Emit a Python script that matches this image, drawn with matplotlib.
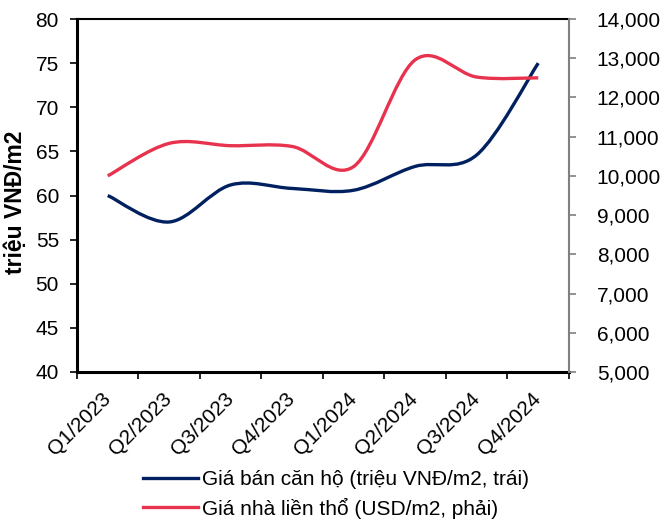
import numpy as np
import matplotlib.pyplot as plt
from matplotlib.path import Path
from matplotlib.patches import PathPatch
from matplotlib.lines import Line2D
from matplotlib.ticker import FuncFormatter

plt.rcParams['font.family'] = ['Liberation Sans', 'DejaVu Sans']

quarters = ["Q1/2023", "Q2/2023", "Q3/2023", "Q4/2023",
            "Q1/2024", "Q2/2024", "Q3/2024", "Q4/2024"]
apartment_price = [60.0, 57.0, 61.2, 60.8, 60.6, 63.3, 64.6, 75.0]      # trieu VND/m2, left
townhouse_price = [10000, 10830, 10770, 10750, 10240, 12960, 12520, 12500]  # USD/m2, right

navy = "#002060"
red = "#E8334F"
fs = 15


def smooth_path(xs, ys):
    # Catmull-Rom style cubic Bezier through every point (like spreadsheet "smoothed line")
    pts = np.column_stack([xs, ys]).astype(float)
    n = len(pts)
    verts = [pts[0]]
    codes = [Path.MOVETO]
    for i in range(n - 1):
        p0 = pts[i - 1] if i > 0 else pts[i]
        p1 = pts[i]
        p2 = pts[i + 1]
        p3 = pts[i + 2] if i + 2 < n else pts[i + 1]
        c1 = p1 + (p2 - p0) / 6.0
        c2 = p2 - (p3 - p1) / 6.0
        verts += [c1, c2, p2]
        codes += [Path.CURVE4] * 3
    return Path(verts, codes)


fig = plt.figure(figsize=(6.62, 5.21), dpi=100)
ax = fig.add_axes([0.1163, 0.286, 0.7432, 0.6775])
ax2 = ax.twinx()

x = np.arange(len(quarters))
ax.add_patch(PathPatch(smooth_path(x, apartment_price), fill=False,
                       edgecolor=navy, lw=2.4, capstyle='butt', zorder=3))
ax2.add_patch(PathPatch(smooth_path(x, townhouse_price), fill=False,
                        edgecolor=red, lw=2.4, capstyle='butt', zorder=3))

ax.set_xlim(-0.5, len(quarters) - 0.5)
ax.set_ylim(40, 80)
ax.set_yticks(np.arange(40, 81, 5))
ax2.set_ylim(5000, 14000)
ax2.set_yticks(np.arange(5000, 14001, 1000))
ax2.yaxis.set_major_formatter(FuncFormatter(lambda v, p: f"{int(v):,}"))

# tick marks between categories, labels at category centres
ax.set_xticks(np.arange(-0.5, len(quarters), 1))
ax.set_xticklabels([])
ax.set_xticks(x, minor=True)
ax.set_xticklabels(quarters, minor=True, rotation=45, ha='right',
                   va='center', rotation_mode='anchor', fontsize=fs)
ax.tick_params(axis='x', which='major', direction='out', length=5, width=1.2, color='black')
ax.tick_params(axis='x', which='minor', length=0, pad=17)

ax.tick_params(axis='y', direction='out', length=5, width=1.2, labelsize=fs, pad=8)
ax2.tick_params(axis='y', direction='out', length=5, width=1.2, color='#808080',
                labelsize=fs, pad=15)

for s in ['left', 'bottom']:
    ax.spines[s].set_linewidth(2.2)
ax.spines['top'].set_linewidth(1.5)
ax2.spines['top'].set_visible(False)
ax2.spines['left'].set_visible(False)
ax2.spines['bottom'].set_visible(False)
ax.spines['right'].set_visible(False)
ax2.spines['right'].set_color('#808080')
ax2.spines['right'].set_linewidth(1.5)

fig.text(16 / 662, 1 - 202 / 521, "triệu VNĐ/m2", rotation=90, fontsize=16.5,
         fontweight='bold', ha='center', va='center')

handles = [Line2D([], [], color=navy, lw=2.4),
           Line2D([], [], color=red, lw=2.4)]
labels = ["Giá bán căn hộ (triệu VNĐ/m2, trái)",
          "Giá nhà liền thổ (USD/m2, phải)"]
fig.legend(handles, labels, loc='upper left', bbox_to_anchor=(0.216, 0.098),
           frameon=False, fontsize=fs, handlelength=2.64, handletextpad=0.2,
           labelspacing=0.42, borderaxespad=0, borderpad=0)

fig.savefig("out.png", dpi=100)
